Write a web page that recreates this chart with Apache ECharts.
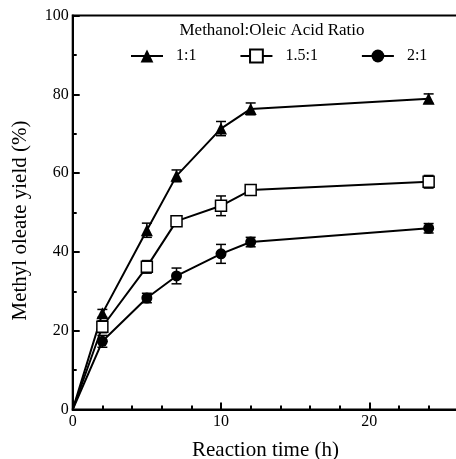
<!DOCTYPE html>
<html><head><meta charset="utf-8">
<script src="https://cdn.jsdelivr.net/npm/echarts@6/dist/echarts.min.js"></script>
<style>html,body{margin:0;padding:0;background:#fff}#c{width:456px;height:459px}</style>
</head><body><div id="c"></div>
<script>
var times = [0, 2, 5, 7, 10, 12, 24];
var seriesNames = ['1:1', '1.5:1', '2:1'];
var yield11 = [0, 24.4, 45.5, 59.3, 71.3, 76.3, 78.9];
var yield151 = [0, 21.0, 36.2, 47.8, 51.7, 55.7, 57.8];
var yield21 = [0, 17.3, 28.3, 33.9, 39.5, 42.5, 46.0];
var err11 = [0, 1.0, 1.8, 1.5, 1.8, 1.5, 1.2];
var err151 = [0, 1.5, 1.6, 1.3, 2.5, 0.6, 1.6];
var err21 = [0, 1.5, 1.2, 2.0, 2.4, 1.2, 1.2];
var legendTitle = 'Methanol:Oleic Acid Ratio';
var xName = 'Reaction time (h)';
var yName = 'Methyl oleate yield (%)';

var font = '"Liberation Serif", "DejaVu Serif", serif';
function pts(vals) {
  return times.map(function (t, i) {
    var d = { value: [t, vals[i]] };
    if (i === 0) d.symbol = 'none';
    return d;
  });
}
function errData(vals, errs) {
  var out = [];
  times.forEach(function (t, i) { if (errs[i] > 0) out.push([t, vals[i] - errs[i], vals[i] + errs[i]]); });
  return out;
}
function errSeries(vals, errs) {
  return {
    type: 'custom', silent: true, z: 1,
    data: errData(vals, errs),
    renderItem: function (params, api) {
      var lo = api.coord([api.value(0), api.value(1)]);
      var hi = api.coord([api.value(0), api.value(2)]);
      var w = 5;
      var st = { stroke: '#000', lineWidth: 1.5 };
      return { type: 'group', children: [
        { type: 'line', shape: { x1: lo[0], y1: lo[1], x2: hi[0], y2: hi[1] }, style: st },
        { type: 'line', shape: { x1: lo[0] - w, y1: lo[1], x2: lo[0] + w, y2: lo[1] }, style: st },
        { type: 'line', shape: { x1: hi[0] - w, y1: hi[1], x2: hi[0] + w, y2: hi[1] }, style: st }
      ] };
    }
  };
}
var chart = echarts.init(document.getElementById('c'));
var lineStyle = { color: '#000', width: 2 };
chart.setOption({
  animation: false,
  backgroundColor: '#fff',
  title: { text: legendTitle, left: 272, top: 22, textAlign: 'center', padding: 0,
    textStyle: { fontFamily: font, fontSize: 17, fontWeight: 'normal', color: '#000' } },
  legend: {
    data: seriesNames, top: 48, left: 130, padding: 0, itemGap: 43, itemWidth: 32, itemHeight: 16,
    textStyle: { fontFamily: font, fontSize: 16, color: '#000', padding: [0, 0, 0, 8] }
  },
  grid: { left: 72.7, right: -2.3, top: 15.5, bottom: 49.5, containLabel: false, outerBoundsMode: 'none',
    show: true, borderColor: '#000', borderWidth: 2, backgroundColor: 'transparent' },
  xAxis: {
    type: 'value', min: 0, max: 26, interval: 10,
    name: xName, nameLocation: 'middle', nameGap: 30,
    nameTextStyle: { fontFamily: font, fontSize: 21, color: '#000' },
    axisLine: { lineStyle: { color: '#000', width: 2 } },
    axisTick: { inside: true, length: 7, lineStyle: { color: '#000', width: 2 } },
    minorTick: { show: true, splitNumber: 5, length: 4, lineStyle: { color: '#000', width: 2 } },
    axisLabel: { fontFamily: font, fontSize: 16, color: '#000', margin: 4, showMaxLabel: false },
    splitLine: { show: false }
  },
  yAxis: {
    type: 'value', min: 0, max: 100, interval: 20,
    name: yName, nameLocation: 'middle', nameGap: 42,
    nameTextStyle: { fontFamily: font, fontSize: 21, color: '#000', padding: [0, 16, 0, 0] },
    axisLine: { lineStyle: { color: '#000', width: 2 } },
    axisTick: { inside: true, length: 7, lineStyle: { color: '#000', width: 2 } },
    minorTick: { show: true, splitNumber: 2, length: 4, lineStyle: { color: '#000', width: 2 } },
    axisLabel: { fontFamily: font, fontSize: 16, color: '#000', margin: 4 },
    splitLine: { show: false }
  },
  series: [
    { name: seriesNames[0], type: 'line', data: pts(yield11), symbol: 'triangle', symbolSize: 12,
      itemStyle: { color: '#000' }, lineStyle: lineStyle, z: 3 },
    { name: seriesNames[1], type: 'line', data: pts(yield151), symbol: 'rect', symbolSize: 11,
      itemStyle: { color: '#fff', borderColor: '#000', borderWidth: 1.5 }, lineStyle: lineStyle, z: 3 },
    { name: seriesNames[2], type: 'line', data: pts(yield21), symbol: 'circle', symbolSize: 11,
      itemStyle: { color: '#000' }, lineStyle: lineStyle, z: 3 },
    errSeries(yield11, err11), errSeries(yield151, err151), errSeries(yield21, err21)
  ]
});
</script></body></html>
